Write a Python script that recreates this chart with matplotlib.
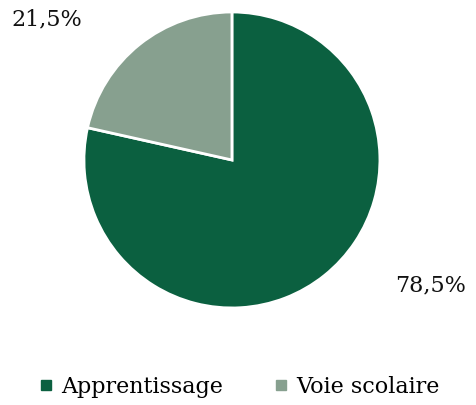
import matplotlib
matplotlib.use("Agg")
import matplotlib.pyplot as plt
from matplotlib.lines import Line2D

# Data
categories = ["Apprentissage", "Voie scolaire"]
shares = [78.5, 21.5]
labels = ["78,5%", "21,5%"]
colors = ["#0B6040", "#87A08F"]

plt.rcParams['font.family'] = ['DejaVu Serif']

fig = plt.figure(figsize=(4.77, 4.05), dpi=100)
ax = fig.add_axes([0.176, 0.2395, 0.6205, 0.731])

wedges, _ = ax.pie(shares, colors=colors, startangle=90, counterclock=False,
                   wedgeprops=dict(edgecolor="white", linewidth=2))
ax.set_aspect("equal")
ax.set_xlim(-1, 1)
ax.set_ylim(-1, 1)

# value labels outside the pie
label_pos = [(1.34, -0.85), (-1.25, 0.95)]
for txt, (x, y) in zip(labels, label_pos):
    ax.text(x, y, txt, ha="center", va="center", fontsize=16,
            color="#111111", clip_on=False)

handles = [Line2D([], [], marker="s", linestyle="", color=c, markersize=7)
           for c in colors]
fig.legend(handles, categories, loc="center", bbox_to_anchor=(0.5, 0.045),
           ncol=2, frameon=False, fontsize=16, handletextpad=0.3,
           columnspacing=2.2, handlelength=0.8)

fig.savefig("out.png", dpi=100)
